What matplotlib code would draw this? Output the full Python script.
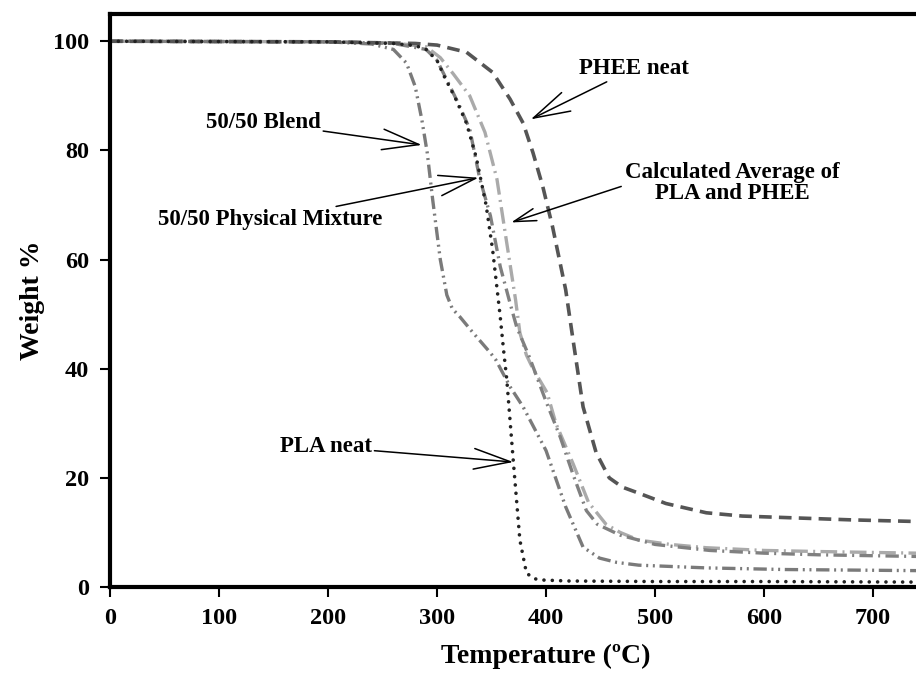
import matplotlib
matplotlib.use("Agg")
import matplotlib.pyplot as plt

plt.rcParams['font.family'] = ['Liberation Serif', 'DejaVu Serif']
plt.rcParams['font.weight'] = 'bold'

# --- TGA curves (T in C, weight %) ---
phee_t = [0, 200, 280, 300, 327, 351, 367, 379, 388, 397, 406, 418, 425, 434,
          446, 458, 470, 485, 510, 547, 580, 623, 680, 740, 800]
phee_w = [100, 99.9, 99.6, 99.3, 98, 94.3, 89.4, 85, 79.6, 73.4, 66, 54.5, 45, 33,
          24.6, 20, 18.3, 17.2, 15.3, 13.6, 13.0, 12.7, 12.3, 12.0, 11.9]

calc_t = [0, 200, 260, 290, 303, 315, 330, 344, 355, 364, 372, 376, 382, 388,
          401, 409, 425, 439, 455, 468, 485, 514, 547, 600, 650, 740, 800]
calc_w = [100, 99.9, 99.7, 99, 97, 94, 90, 83.3, 74.7, 63, 52.7, 46.6, 42.5, 40,
          35.6, 30, 22.5, 15.5, 11.5, 10, 8.6, 7.8, 7.2, 6.7, 6.5, 6.2, 6.1]

mix_t = [0, 200, 260, 290, 300, 312, 321, 330, 339, 349, 358, 367, 373, 385,
         400, 413, 425, 437, 447, 468, 500, 550, 600, 650, 740, 800]
mix_w = [100, 99.9, 99.6, 98.5, 96.5, 91.7, 88, 83.9, 75, 68, 58.7, 52, 47.7, 42,
         34, 27.5, 20.5, 14, 11.5, 9.5, 7.8, 6.7, 6.2, 5.9, 5.6, 5.5]

blend_t = [0, 200, 240, 260, 272, 280, 286, 291, 296, 303, 309, 314, 321, 333,
           349, 354, 367, 379, 400, 418, 434, 449, 465, 485, 547, 620, 740, 800]
blend_w = [100, 99.9, 99.5, 98.5, 96, 91.7, 85.7, 79.6, 71, 60, 53.5, 51, 49.5, 46.6,
           42.9, 41.6, 36.7, 33, 25, 14.7, 7.3, 5.3, 4.5, 4.0, 3.5, 3.2, 3.0, 3.0]

pla_t = [0, 200, 260, 280, 290, 300, 307, 317, 327, 336, 345, 351, 358, 361,
         364, 370, 376, 382, 388, 394, 420, 500, 600, 740, 800]
pla_w = [100, 99.9, 99.6, 99.2, 98.5, 96.5, 93.4, 89.5, 85, 78.7, 70, 61.8, 49.5, 43.5,
         38, 23, 8.6, 2.6, 1.6, 1.3, 1.1, 1.0, 1.0, 0.9, 0.9]

fig = plt.figure(figsize=(9.16, 6.82), dpi=100)
# axes runs past the right edge, like the cropped original
ax = fig.add_axes([0.1201, 0.1393, 0.952, 0.8402])

ax.plot(calc_t, calc_w, color='#aaaaaa', lw=2.4, dashes=(5, 1.6, 0.6, 1.6))
ax.plot(mix_t, mix_w, color='#808080', lw=2.4, dashes=(4, 1.6, 0.6, 1.6))
ax.plot(blend_t, blend_w, color='#7a7a7a', lw=2.4,
        dashes=(4, 1.4, 0.6, 1.4, 0.6, 1.4))
ax.plot(phee_t, phee_w, color='#555555', lw=2.6, dashes=(3.5, 2))
ax.plot(pla_t, pla_w, color='#222222', lw=2.6, dashes=(0.01, 2.3),
        dash_capstyle='round')

ax.set_xlim(0, 800)
ax.set_ylim(0, 105)
ax.set_xticks([0, 100, 200, 300, 400, 500, 600, 700])
ax.set_yticks([0, 20, 40, 60, 80, 100])

for s in ['left', 'bottom', 'top']:
    ax.spines[s].set_linewidth(3)
ax.spines['right'].set_visible(False)
ax.tick_params(direction='out', length=7, width=1.5, labelsize=17.5, pad=8)

ax.set_xlabel('Temperature (ºC)', fontsize=20, fontweight='bold', labelpad=11)
ax.set_ylabel('Weight %', fontsize=20, fontweight='bold', labelpad=6)

arrow = dict(arrowstyle='->,head_length=1.6,head_width=0.45', lw=1.1,
             color='black', shrinkA=0, shrinkB=0)
tfont = dict(fontsize=16.5, fontweight='bold', va='center')

ax.annotate('50/50 Blend', xy=(286, 81), xytext=(193, 85.1),
            ha='right', arrowprops=arrow, **tfont)
ax.annotate('50/50 Physical Mixture', xy=(338, 75), xytext=(250, 67.3),
            ha='right', arrowprops=arrow, **tfont)
ax.annotate('PHEE neat', xy=(386, 85.7), xytext=(430, 95),
            ha='left', arrowprops=arrow, **tfont)
ax.annotate('', xy=(368, 66.8), xytext=(469, 73.4), arrowprops=arrow)
ax.text(571, 74, 'Calculated Average of\nPLA and PHEE', ha='center',
        linespacing=1.0, **tfont)
ax.annotate('PLA neat', xy=(370, 22.9), xytext=(240, 25.7),
            ha='right', arrowprops=arrow, **tfont)

fig.savefig('out.png', dpi=100)
